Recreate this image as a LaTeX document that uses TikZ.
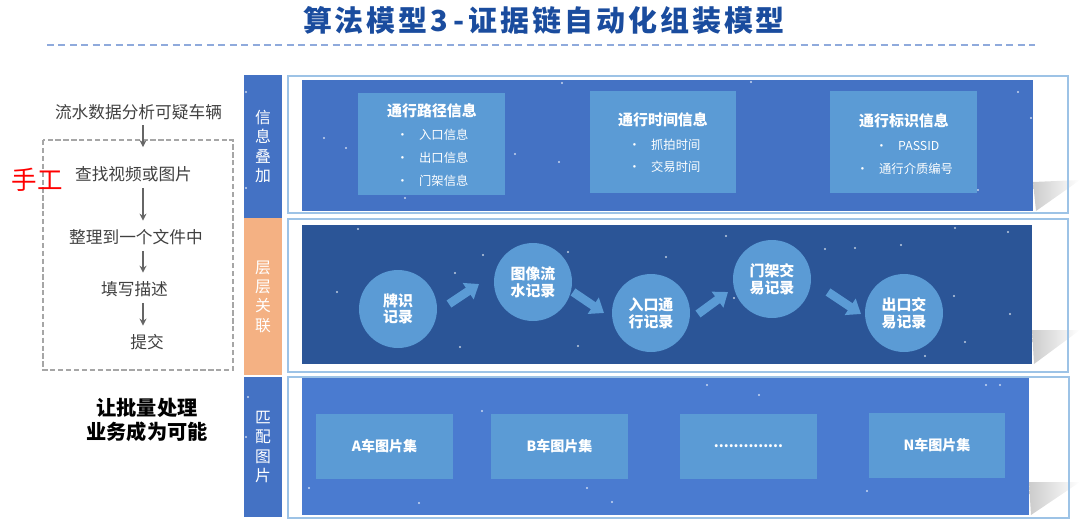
\documentclass[tikz,border=0pt]{standalone}
\usepackage{fontspec}
\setmainfont{Noto Sans CJK SC}
\usetikzlibrary{arrows.meta,positioning}
\definecolor{titleblue}{HTML}{1A4C9E}
\definecolor{dashblue}{HTML}{8FAADC}
\definecolor{sideblue}{HTML}{4472C4}
\definecolor{sideorange}{HTML}{F4B183}
\definecolor{framecol}{HTML}{9DC3E6}
\definecolor{fillone}{HTML}{4472C4}
\definecolor{filltwo}{HTML}{2B5597}
\definecolor{fillthree}{HTML}{4A7BD0}
\definecolor{boxcol}{HTML}{5B9BD5}
\definecolor{flowgray}{HTML}{404040}

\begin{document}
\begin{tikzpicture}[x=0.02cm,y=-0.02cm,
		flowtext/.style={font=\fontsize{9.5}{11}\selectfont, text=flowgray, inner sep=1pt},
		flowarr/.style={-{Stealth[length=4pt,width=4pt]}, draw=gray!80!black, line width=0.7pt, shorten <=2pt, shorten >=4pt},
		sidelabel/.style={fill=sideblue, minimum width=0.76cm, inner sep=0, align=center, text=white, font=\fontsize{9}{11}\selectfont},
		frame/.style={draw=framecol, line width=0.8pt},
		shadow/.style={left color=gray!40, right color=white},
		infobox/.style={fill=boxcol, inner sep=0, minimum width=2.94cm, minimum height=2.04cm},
		boxtitle/.style={text=white, font=\bfseries\fontsize{8.5}{10}\selectfont, inner sep=0},
		item/.style={text=white, font=\fontsize{7}{8}\selectfont, anchor=west, inner sep=0},
		rec/.style={circle, fill=boxcol, minimum size=1.56cm, inner sep=0, align=center, text=white, font=\bfseries\fontsize{8.5}{9.5}\selectfont},
		blockarr/.style={-{Triangle[length=0.26cm,width=0.38cm]}, draw=boxcol, line width=0.17cm},
		picset/.style={fill=boxcol, inner sep=0, minimum width=2.74cm, minimum height=1.3cm, text=white, font=\bfseries\fontsize{8}{9}\selectfont},
		star/.style={fill=white, opacity=0.7}
		]
		\useasboundingbox (0,0) rectangle (1080,522);
		
		% title
		\node[text=titleblue, font=\bfseries\fontsize{16.5}{18}\selectfont\addfontfeatures{LetterSpace=10}] (title) at (544,20) {算法模型3\,-\,证据链自动化组装模型};
		\draw[dashblue, line width=0.6pt, dash pattern=on 4pt off 2.5pt] (47,45) -- (1035,45);
		
		% manual workflow
		\coordinate (ax) at (143,0);
		\draw[gray!70, line width=0.8pt, dash pattern=on 3pt off 1.5pt] (43,140) rectangle (233,370);
		\node[flowtext] (analyse) at (138.5,112) {流水数据分析可疑车辆};
		\node[flowtext] (search) at (133.5,174.5) {查找视频或图片};
		\node[flowtext] (collect) at (136,237.5) {整理到一个文件中};
		\node[flowtext] (describe) at (134.5,289.5) {填写描述};
		\node[flowtext] (submit) at (147,342.5) {提交};
		\node[text=red, font=\fontsize{14.5}{16}\selectfont, inner sep=0] (manual) at (37,180) {手工};
		\draw[flowarr, shorten >=10pt] (analyse.south -| ax) -- (search.north -| ax);
		\draw[flowarr] (search.south -| ax) -- (collect.north -| ax);
		\draw[flowarr] (collect.south -| ax) -- (describe.north -| ax);
		\draw[flowarr] (describe.south -| ax) -- (submit.north -| ax);
		\node[align=center, font=\bfseries\fontsize{11.5}{13.6}\selectfont] (batch) at (147,419.5) {让批量处理\\业务成为可能};
		
		% side labels
		\node[sidelabel, minimum height=2.86cm] (overlay) at (263,146.5) {信\\息\\叠\\加};
		\node[sidelabel, fill=sideorange, minimum height=3.14cm] (link) at (263,296.5) {层\\层\\关\\联};
		\node[sidelabel, minimum height=2.8cm] (match) at (263,447) {匹\\配\\图\\片};
		
		% panels
		\shade[shadow] (1033,182) -- (1080,180) -- (1036,211) -- cycle;
		\shade[shadow] (1032,330) -- (1080,330) -- (1034,364) -- cycle;
		\shade[shadow] (1029,482) -- (1080,482) -- (1031,515) -- cycle;
		\fill[fillone] (302,80) rectangle (1033,211);
		\fill[filltwo] (302,225) rectangle (1032,364);
		\fill[fillthree] (302,378) rectangle (1029,515);
		\draw[frame] (288,76) rectangle (1068,213);
		\draw[frame] (288,219) rectangle (1068,372);
		\draw[frame] (288,377) rectangle (1069,518);
		
		% stars
		\foreach \p in {(246,92),(246,188),(248,397),(246,437),(324,138),(346,148),(457,99),(405,198),(515,154),(559,162),(562,83),(612,141),(751,82),(848,112),(1018,92),(1031,118),(670,178),(978,190),(358,229),(337,292),(455,273),(483,255),(460,347),(568,252),(578,346),(666,257),(726,236),(734,298),(825,249),(855,248),(901,245),(955,228),(954,296),(965,342),(925,356),(1008,232),(1010,314),(482,411),(360,420),(323,437),(309,488),(419,503),(524,447),(559,418),(587,488),(612,502),(707,385),(759,395),(733,462),(900,470),(867,491),(986,385),(1000,385),(890,433)}
		\fill[star] \p circle (1.1);
		
		% information overlay
		\node[infobox] (route) at (431.5,144) {};
		\node[boxtitle] (routeT) at (432,111) {通行路径信息};
		\node[item] (routeA) at (396,135) {•\hspace{6pt}入口信息};
		\node[item] (routeB) at (396,158) {•\hspace{6pt}出口信息};
		\node[item] (routeC) at (396,181) {•\hspace{6pt}门架信息};
		
		\node[infobox] (time) at (663,142) {};
		\node[boxtitle] (timeT) at (663,120) {通行时间信息};
		\node[item] (timeA) at (628,145) {•\hspace{6pt}抓拍时间};
		\node[item] (timeB) at (628,167) {•\hspace{6pt}交易时间};
		
		\node[infobox] (ident) at (903.5,142) {};
		\node[boxtitle] (identT) at (904,121) {通行标识信息};
		\node[item] (identA) at (875,146) {•\hspace{6pt}PASSID};
		\node[item] (identB) at (856,169) {•\hspace{6pt}通行介质编号};
		
		% record chain
		\node[rec] (plate) at (398,309) {牌识\\记录};
		\node[rec] (image) at (533,282) {图像流\\水记录};
		\node[rec] (entry) at (651,313) {入口通\\行记录};
		\node[rec] (gantry) at (772,279) {门架交\\易记录};
		\node[rec] (exit) at (904,313) {出口交\\易记录};
		\coordinate (s1) at (449,304); \coordinate (e1) at (479,284);
		\coordinate (s2) at (573,292); \coordinate (e2) at (604,313);
		\coordinate (s3) at (698,314); \coordinate (e3) at (728,292);
		\coordinate (s4) at (828,292); \coordinate (e4) at (861,314);
		\draw[blockarr] (s1) -- (e1);
		\draw[blockarr] (s2) -- (e2);
		\draw[blockarr] (s3) -- (e3);
		\draw[blockarr] (s4) -- (e4);
		
		% picture sets
		\node[picset] (setA) at (384.5,446) {A车图片集};
		\node[picset] (setB) at (559.5,446) {B车图片集};
		\node[picset] (setX) at (748.5,446) {..............};
		\node[picset] (setN) at (937,445.5) {N车图片集};
		
	\end{tikzpicture}
\end{document}
